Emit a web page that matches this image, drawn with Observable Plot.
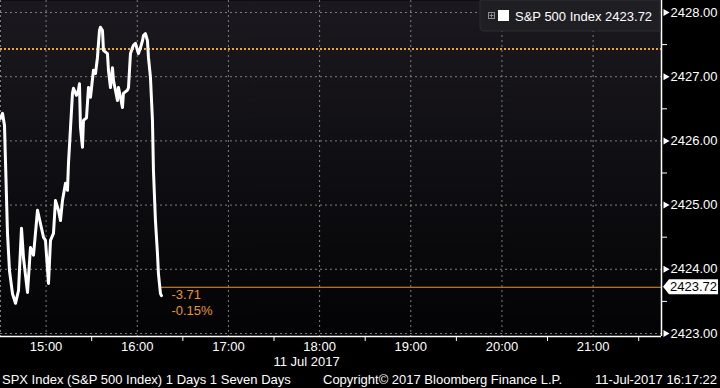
<!DOCTYPE html>
<html><head><meta charset="utf-8">
<script src="https://cdn.jsdelivr.net/npm/d3@7"></script>
<script src="https://cdn.jsdelivr.net/npm/@observablehq/plot@0.6"></script>
<style>
html,body{margin:0;padding:0;background:#000;}
#chart{width:720px;height:388px;overflow:hidden;}
svg{display:block;}
</style></head><body><div id="chart"></div>
<script>
// ---- data ----
const times = ["14:30:00","14:31:19","14:32:38","14:34:36","14:35:55","14:37:54","14:39:52","14:41:51","14:43:49","14:45:08",
"14:47:46","14:49:44","14:51:43","14:54:21","14:56:19","14:58:17","14:59:36","15:01:35","15:02:54","15:04:52",
"15:06:11","15:08:09","15:09:28","15:10:47","15:12:46","15:14:05","15:14:44","15:17:22","15:18:02","15:20:00",
"15:21:19","15:21:58","15:22:38","15:23:57","15:24:36","15:26:35","15:27:54","15:29:13","15:31:11","15:32:30",
"15:33:49","15:35:08","15:35:47","15:37:07","15:37:46","15:40:23","15:41:03","15:42:22","15:43:41","15:44:21",
"15:45:39","15:46:58","15:47:38","15:48:57","15:50:16","15:50:55","15:53:33","15:54:13","15:55:32","15:56:50",
"15:57:30","15:58:49","16:00:08","16:00:47","16:02:07","16:03:25","16:04:05","16:05:24","16:06:43","16:07:22",
"16:08:41","16:10:00","16:10:39","16:11:58","16:13:17","16:13:57","16:15:16","16:15:55"];
const values = [2426.35,2426.43,2426.24,2424.56,2423.98,2423.62,2423.47,2423.67,2424.64,2424.18,
2423.64,2424.34,2424.22,2424.92,2424.71,2424.50,2424.45,2423.78,2424.45,2424.56,
2425.07,2424.92,2424.76,2425.07,2425.34,2425.23,2425.65,2426.74,2426.82,2426.71,
2426.79,2426.89,2426.21,2425.90,2426.32,2426.36,2426.83,2426.68,2427.10,2427.05,
2427.30,2427.72,2427.77,2427.72,2427.41,2427.36,2427.10,2426.83,2427.14,2426.94,
2426.79,2426.63,2426.83,2426.68,2426.52,2426.74,2426.79,2426.83,2427.36,2427.45,
2427.49,2427.52,2427.41,2427.36,2427.45,2427.56,2427.64,2427.67,2427.56,2427.30,
2426.99,2426.32,2425.54,2424.76,2424.25,2423.93,2423.62,2423.59];
const prevClose = 2427.43;
const lastPrice = 2423.72;
const netChange = "-3.71";
const pctChange = "-0.15%";
const seriesName = "S&P 500 Index";
const yLabelTicks = [2423, 2424, 2425, 2426, 2427, 2428];
const yMinorTicks = [2423.5, 2424.5, 2425.5, 2426.5, 2427.5];
const hourTicks = ["15:00","16:00","17:00","18:00","19:00","20:00","21:00"];
const halfHourTicks = ["15:30","16:30","17:30","18:30","19:30","20:30","21:30"];
const gridTimes = ["14:30","15:00","16:00","17:00","18:00","19:00","20:00","21:00"];
const xDomain = ["14:30","21:45"];
const yDomain = [2422.953, 2428.187];
const dateLabel = "11 Jul 2017";
const dateLabelAt = "17:30";
const footerLeft = "SPX Index (S&P 500 Index) 1 Days 1 Seven Days";
const footerMid = "Copyright\u00A9 2017 Bloomberg Finance L.P.";
const footerRight = "11-Jul-2017 16:17:22";

// ---- build ----
const day = "2017-07-11";
const toDate = t => new Date(`${day}T${t.length === 5 ? t + ":00" : t}Z`);
const data = times.map((t, i) => ({date: toDate(t), value: values[i]}));
const lastDate = data[data.length - 1].date;
const endDate = toDate(xDomain[1]);
const fmtH = d3.utcFormat("%H:%M");
const font = "'Liberation Sans', Arial, sans-serif";
const orange = "#e8952f";

const plot = Plot.plot({
  width: 720, height: 388,
  marginLeft: 0, marginRight: 59, marginTop: 0, marginBottom: 52,
  style: {background: "#000", color: "white", fontFamily: font, fontSize: "13px"},
  x: {type: "utc", domain: xDomain.map(toDate), label: null},
  y: {domain: yDomain, label: null},
  marks: [
    Plot.frame({fill: "url(#bgGrad)", stroke: null}),
    Plot.gridX(gridTimes.map(toDate), {stroke: "#8a8a8a", strokeOpacity: 0.9, strokeDasharray: "2,3"}),
    Plot.gridY(yLabelTicks, {stroke: "#8a8a8a", strokeOpacity: 0.9, strokeDasharray: "2,3"}),
    Plot.ruleY([prevClose], {stroke: "#f2a533", strokeWidth: 2, strokeDasharray: "2,2"}),
    Plot.ruleY([{y: lastPrice, x1: lastDate, x2: endDate}], {y: "y", x1: "x1", x2: "x2", stroke: orange, strokeWidth: 1}),
    Plot.line(data, {x: "date", y: "value", stroke: "white", strokeWidth: 3, strokeLinejoin: "round", strokeLinecap: "round"}),
    Plot.text([{x: lastDate, y: lastPrice, t: netChange}], {x: "x", y: "y", text: "t", dx: 10, dy: 8, textAnchor: "start", fill: orange, fontSize: 13}),
    Plot.text([{x: lastDate, y: lastPrice, t: pctChange}], {x: "x", y: "y", text: "t", dx: 10, dy: 24, textAnchor: "start", fill: orange, fontSize: 13}),
    Plot.ruleX([endDate], {stroke: "white", strokeWidth: 1.5}),
    Plot.ruleY([yDomain[0]], {stroke: "white", strokeWidth: 1.5}),
    Plot.axisY(yLabelTicks, {anchor: "right", tickSize: 0, tickPadding: 9, tickFormat: d => d.toFixed(2), label: null, fill: "white", fontSize: 13}),
    Plot.axisY(yMinorTicks, {anchor: "right", tickSize: 5, tickFormat: () => "", label: null, stroke: "white"}),
    Plot.dot(yLabelTicks, {y: d => d, frameAnchor: "right", dx: 4, symbol: "triangle", r: 2.6, rotate: 90, fill: "white", stroke: null}),
    Plot.axisX(hourTicks.map(toDate), {anchor: "bottom", tickSize: 0, tickPadding: 5.5, tickFormat: fmtH, label: null, fill: "white", fontSize: 13}),
    Plot.axisX(halfHourTicks.map(toDate), {anchor: "bottom", tickSize: 5, tickFormat: () => "", label: null, stroke: "white"})
  ]
});

const svg = d3.select(plot);
const defs = svg.insert("defs", ":first-child");
const g = defs.append("linearGradient").attr("id", "bgGrad").attr("x1", 0).attr("y1", 0).attr("x2", 0).attr("y2", 1);
g.append("stop").attr("offset", "0%").attr("stop-color", "#1b191f");
g.append("stop").attr("offset", "100%").attr("stop-color", "#030305");

const ys = plot.scale("y"), xs = plot.scale("x");
// last price tag on the right axis
const ly = ys.apply(lastPrice);
const tag = svg.append("g").attr("text-anchor", "start");
tag.append("path").attr("d", `M663,${ly} L669,${ly-7.5} L718,${ly-7.5} L718,${ly+7.5} L669,${ly+7.5} Z`).attr("fill", "white");
tag.append("text").attr("x", 670).attr("y", ly).attr("dy", "0.35em").attr("fill", "black")
  .style("font", `13px ${font}`).text(lastPrice.toFixed(2));

// legend box
const leg = svg.append("g").attr("text-anchor", "start");
leg.append("path").attr("d", "M480,0 H660 V31 H484 Q480,31 480,27 Z").attr("fill", "#1f1e23").attr("stroke", "#2e2d33");
leg.append("rect").attr("x", 488.5).attr("y", 12.5).attr("width", 6).attr("height", 6).attr("fill", "none").attr("stroke", "#8c8c8c");
leg.append("path").attr("d", "M489.5,15.5 H493.5 M491.5,13.5 V17.5").attr("stroke", "#8c8c8c");
leg.append("rect").attr("x", 498).attr("y", 10).attr("width", 11).attr("height", 11).attr("fill", "white");
leg.append("text").attr("x", 515).attr("y", 16).attr("dy", "0.35em").attr("fill", "white")
  .style("font", `13px ${font}`).text(`${seriesName} ${lastPrice.toFixed(2)}`);

// date label and footer
svg.append("text").attr("text-anchor", "start").attr("x", xs.apply(toDate(dateLabelAt))).attr("y", 366).attr("fill", "white")
  .style("font", `13px ${font}`).text(dateLabel);
const foot = svg.append("g").attr("text-anchor", "start").style("font", `13px ${font}`).attr("fill", "white");
foot.append("text").attr("x", 2).attr("y", 384).text(footerLeft);
foot.append("text").attr("x", 323).attr("y", 384).text(footerMid);
foot.append("text").attr("x", 717).attr("y", 384).attr("text-anchor", "end").text(footerRight);

document.getElementById("chart").appendChild(plot);
</script></body></html>
